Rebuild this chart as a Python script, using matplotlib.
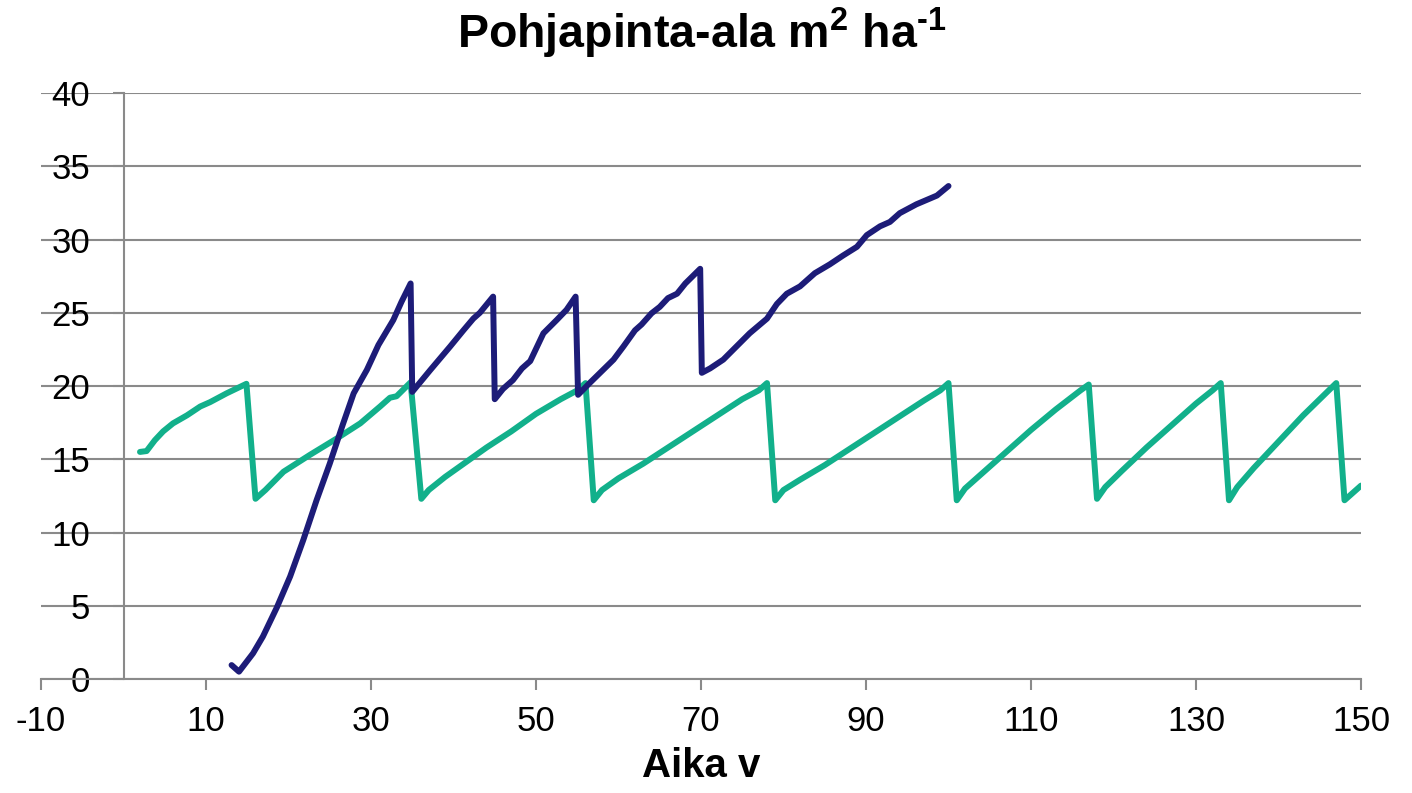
import matplotlib
matplotlib.use("Agg")
import matplotlib.pyplot as plt

plt.rcParams['font.family'] = ['Liberation Sans', 'DejaVu Sans']
plt.rcParams['axes.unicode_minus'] = False
plt.rcParams['mathtext.fontset'] = 'custom'
plt.rcParams['mathtext.rm'] = 'Liberation Sans:bold'
plt.rcParams['mathtext.bf'] = 'Liberation Sans:bold'

# Data
# ------------------------
# dark blue series
navy_x = [13.1, 14.0, 15.7, 16.9, 18.6, 20.2, 21.8, 23.4, 25.0, 26.6, 27.9, 29.5,
          30.9, 32.7, 33.7, 34.8, 35.0, 37.2, 39.6, 41.2, 42.4, 43.2, 44.8, 45.0,
          46.0, 47.2, 48.3, 49.3, 50.9, 52.5, 53.7, 54.8, 55.1, 56.5, 59.4, 60.6,
          62.0, 62.8, 64.0, 65.0, 66.0, 67.1, 68.1, 69.9, 70.1, 71.1, 72.7, 74.3,
          75.9, 78.0, 79.2, 80.4, 82.0, 83.8, 85.6, 87.2, 88.9, 90.1, 91.7, 92.9,
          94.1, 96.1, 98.6, 100.0]
navy_y = [0.95, 0.5, 1.75, 2.9, 4.9, 7.0, 9.5, 12.2, 14.7, 17.4, 19.5, 21.1,
          22.8, 24.5, 25.75, 27.0, 19.6, 21.1, 22.7, 23.8, 24.6, 25.0, 26.1, 19.1,
          19.8, 20.4, 21.2, 21.7, 23.6, 24.5, 25.2, 26.1, 19.4, 20.2, 21.8, 22.7,
          23.8, 24.2, 24.96, 25.4, 26.0, 26.3, 27.0, 28.0, 20.9, 21.2, 21.8, 22.7,
          23.6, 24.6, 25.6, 26.3, 26.8, 27.7, 28.3, 28.9, 29.5, 30.3, 30.9, 31.2,
          31.8, 32.4, 33.0, 33.65]

# green series
teal_x = [2.0, 2.8, 3.8, 4.8, 6.0, 7.7, 9.3, 10.5, 12.5, 14.9,
          16.0, 17.2, 19.4, 22.6, 25.8, 28.7, 31.1, 32.3, 33.1, 34.8,
          36.1, 37, 39, 41, 44, 47, 50, 53, 55, 56,
          57, 58, 60, 63, 66, 69, 72, 75, 77, 78,
          79, 80, 82, 85, 88, 91, 94, 97, 99, 100,
          101, 102, 104, 107, 110, 113, 116, 117,
          118, 119, 121, 124, 127, 130, 132, 133,
          134, 135, 137, 140, 143, 145, 147,
          148, 149, 150]
teal_y = [15.5, 15.56, 16.3, 16.9, 17.45, 18.0, 18.6, 18.9, 19.5, 20.15,
          12.3, 12.9, 14.15, 15.3, 16.4, 17.45, 18.6, 19.2, 19.3, 20.25,
          12.3, 12.9, 13.8, 14.6, 15.8, 16.9, 18.1, 19.1, 19.7, 20.2,
          12.2, 12.9, 13.7, 14.7, 15.8, 16.9, 18.0, 19.1, 19.7, 20.2,
          12.2, 12.9, 13.6, 14.6, 15.7, 16.8, 17.9, 19.0, 19.7, 20.2,
          12.2, 13.0, 14.0, 15.5, 17.0, 18.4, 19.7, 20.1,
          12.3, 13.1, 14.2, 15.8, 17.3, 18.8, 19.7, 20.2,
          12.2, 13.1, 14.4, 16.2, 18.0, 19.1, 20.2,
          12.2, 12.7, 13.2]

x_ticks = list(range(-10, 151, 20))
y_ticks = list(range(0, 41, 5))

# Create plot
fig = plt.figure(figsize=(14.12, 7.93), dpi=100)
ax = fig.add_axes([41 / 1412, 1 - 679 / 793, 1320 / 1412, 586 / 793])

grid_col = '#8a8a8a'
ax.set_xlim(-10, 150)
ax.set_ylim(0, 40)
ax.set_yticks(y_ticks)
ax.set_xticks(x_ticks)
ax.yaxis.grid(True, color=grid_col, linewidth=1.5)
ax.set_axisbelow(True)

for s in ['top', 'right']:
    ax.spines[s].set_visible(False)
ax.spines['left'].set_position(('data', 0))
ax.spines['left'].set_color(grid_col)
ax.spines['left'].set_linewidth(1.5)
ax.spines['bottom'].set_color(grid_col)
ax.spines['bottom'].set_linewidth(1.5)

ax.tick_params(axis='y', direction='out', length=8, width=1.5, color=grid_col,
               labelsize=25, pad=16)
ax.tick_params(axis='x', direction='out', length=8, width=1.5, color=grid_col,
               labelsize=25, pad=11)

ax.plot(teal_x, teal_y, color='#12b08b', linewidth=4.3,
        solid_joinstyle='round', solid_capstyle='round')
ax.plot(navy_x, navy_y, color='#1d1c78', linewidth=4.3,
        solid_joinstyle='round', solid_capstyle='round')

fig.text(0.497, 0.958, 'Pohjapinta-ala m$^{2}$ ha$^{\\text{-}1}$', ha='center',
         va='center', fontsize=33.5, fontweight='bold')
ax.set_xlabel('Aika v', fontsize=29, fontweight='bold', labelpad=6)

fig.savefig('out.png', dpi=100)
